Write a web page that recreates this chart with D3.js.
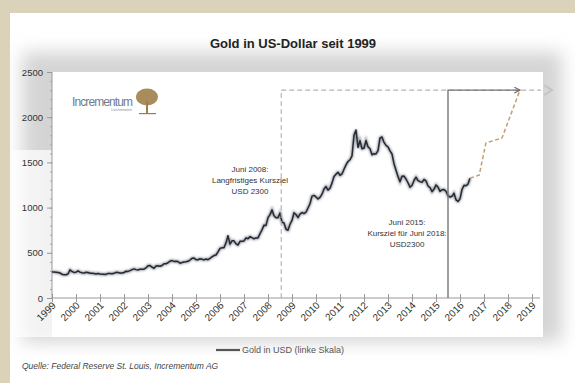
<!DOCTYPE html>
<html>
<head>
<meta charset="utf-8">
<script src="https://d3js.org/d3.v7.min.js"></script>
<style>
  body { margin: 0; background: #dad3b9; }
  svg text { font-family: 'Liberation Sans', Arial, sans-serif; }
</style>
</head>
<body>
<svg id="chart" width="575" height="383"></svg>
<script>
// monthly gold price in USD, Jan 1999 .. Jun 2016
var goldMonthly = [
  287, 288, 286, 282, 277, 262, 256, 257, 265, 311, 293, 283,
  285, 300, 286, 280, 275, 285, 282, 274, 274, 270, 266, 272,
  266, 262, 263, 261, 272, 270, 268, 273, 284, 283, 276, 276,
  282, 296, 294, 303, 314, 322, 314, 310, 319, 317, 319, 333,
  357, 359, 341, 329, 355, 356, 351, 360, 379, 379, 390, 407,
  414, 405, 406, 404, 384, 392, 398, 400, 406, 420, 439, 442,
  424, 423, 434, 429, 422, 431, 424, 438, 456, 470, 476, 510,
  549, 555, 557, 610, 690, 596, 633, 632, 598, 586, 627, 629,
  631, 665, 655, 679, 667, 655, 665, 665, 712, 754, 806, 803,
  889, 922, 975, 909, 888, 889, 939, 839, 829, 760, 750, 816,
  858, 943, 924, 890, 928, 946, 934, 949, 996, 1043, 1127, 1135,
  1118, 1095, 1113, 1148, 1205, 1233, 1193, 1215, 1271, 1343, 1370, 1391,
  1356, 1372, 1424, 1473, 1510, 1529, 1572, 1800, 1858, 1665, 1739, 1652,
  1656, 1742, 1673, 1650, 1585, 1596, 1594, 1630, 1770, 1781, 1721, 1688,
  1671, 1627, 1593, 1485, 1414, 1343, 1286, 1347, 1349, 1316, 1275, 1225,
  1244, 1300, 1336, 1299, 1287, 1279, 1311, 1296, 1239, 1222, 1176, 1202,
  1251, 1227, 1179, 1198, 1199, 1181, 1131, 1117, 1125, 1159, 1086, 1068,
  1097, 1200, 1246, 1242, 1260, 1325
];
var firstYear = 1999;

// forecast path (dashed)
var forecastX = [2016.42, 2016.8, 2017.08, 2017.75, 2018.5];
var forecastY = [1325, 1360, 1715, 1770, 2300];

var xYears = d3.range(1999, 2020);
var yTicks = [0, 500, 1000, 1500, 2000, 2500];
var yMinor = d3.range(0, 2501, 100);

var target = 2300;
var mark2008 = 2008.55;
var mark2015 = 2015.5;
var targetYear = 2018.5;

var title = 'Gold in US-Dollar seit 1999';
var note2008 = ['Juni 2008:', 'Langfristiges Kursziel', 'USD 2300'];
var note2015 = ['Juni 2015:', 'Kursziel für Juni 2018:', 'USD2300'];
var legendLabel = 'Gold in USD (linke Skala)';
var sourceLabel = 'Quelle: Federal Reserve St. Louis, Incrementum AG';

var svg = d3.select('#chart');

var x = d3.scaleLinear().domain([1999, 2019]).range([52, 532]);
var y = d3.scaleLinear().domain([0, 2500]).range([298, 72]);

var defs = svg.append('defs');
defs.append('filter').attr('id', 'soft').attr('x', '-20%').attr('y', '-20%').attr('width', '140%').attr('height', '140%')
  .append('feGaussianBlur').attr('stdDeviation', 9);
defs.append('filter').attr('id', 'glow')
  .append('feGaussianBlur').attr('stdDeviation', 1);
defs.append('marker').attr('id', 'arr').attr('viewBox', '0 0 10 10')
  .attr('refX', 9).attr('refY', 5).attr('markerWidth', 7).attr('markerHeight', 7)
  .attr('markerUnits', 'userSpaceOnUse').attr('orient', 'auto')
  .append('path').attr('d', 'M1,1 L9,5 L1,9').attr('fill', 'none').attr('stroke', '#666').attr('stroke-width', 1.6);

// card and shaded plot frame
svg.append('rect').attr('x', 10).attr('y', 13).attr('width', 565).attr('height', 370).attr('fill', '#fff');
svg.append('rect').attr('x', 22).attr('y', 52).attr('width', 540).attr('height', 290)
  .attr('fill', '#d4d4d4').attr('filter', 'url(#soft)');
svg.append('rect').attr('x', 52).attr('y', 72).attr('width', 491).attr('height', 265).attr('fill', '#fff');
svg.append('rect').attr('x', 12).attr('y', 150).attr('width', 40).attr('height', 187).attr('fill', '#fff').attr('opacity', 0.7);

// title
svg.append('text').attr('x', 293).attr('y', 48).attr('text-anchor', 'middle')
  .attr('font-size', 13).attr('font-weight', 'bold').attr('fill', '#222').text(title);

// logo
var logo = svg.append('g');
logo.append('text').attr('x', 72).attr('y', 106).attr('font-size', 12).attr('fill', '#6d7d8f')
  .attr('textLength', 61).text('Incrementum');
logo.append('text').attr('x', 132).attr('y', 111).attr('text-anchor', 'end').attr('font-size', 3.5)
  .attr('fill', '#8a8a8a').text('Liechtenstein');
logo.append('ellipse').attr('cx', 147).attr('cy', 97).attr('rx', 11).attr('ry', 8.5).attr('fill', '#a98c5c');
logo.append('rect').attr('x', 146).attr('y', 101).attr('width', 2).attr('height', 12).attr('fill', '#9a7e50');
logo.append('rect').attr('x', 139).attr('y', 113).attr('width', 17).attr('height', 1.2).attr('fill', '#9a7e50');

// axes
var gx = svg.append('g').attr('transform', 'translate(0,' + y(0) + ')')
  .call(d3.axisBottom(x).tickValues(xYears).tickFormat(d3.format('d')).tickSize(4));
gx.select('.domain').attr('d', 'M52,0H540').attr('stroke', '#999');
gx.selectAll('.tick line').attr('y1', -4).attr('stroke', '#999');
gx.selectAll('.tick text')
  .attr('font-size', 10).attr('fill', '#333').attr('text-anchor', 'end')
  .attr('y', 0).attr('dy', 0).attr('transform', 'translate(4,8) rotate(-45)');

var gyMinor = svg.append('g').attr('transform', 'translate(52,0)')
  .call(d3.axisLeft(y).tickValues(yMinor).tickFormat('').tickSize(2));
gyMinor.select('.domain').remove();
gyMinor.selectAll('.tick line').attr('stroke', '#aaa');

var gy = svg.append('g').attr('transform', 'translate(52,0)')
  .call(d3.axisLeft(y).tickValues(yTicks).tickFormat(d3.format('d')).tickSize(5));
gy.select('.domain').attr('d', 'M0,' + y(2500) + 'V' + y(0)).attr('stroke', '#999');
gy.selectAll('.tick line').attr('stroke', '#999');
gy.selectAll('.tick text').attr('font-size', 9.5).attr('fill', '#333').attr('x', -9);

// gold line
var goldPoints = goldMonthly.map(function (v, i) { return [firstYear + i / 12, v]; });
var line = d3.line().x(function (d) { return x(d[0]); }).y(function (d) { return y(d[1]); });
svg.append('path').datum(goldPoints).attr('d', line).attr('fill', 'none')
  .attr('stroke', '#9a9ea6').attr('stroke-width', 3).attr('filter', 'url(#glow)');
svg.append('path').datum(goldPoints).attr('d', line).attr('fill', 'none')
  .attr('stroke', '#262a33').attr('stroke-width', 1.5).attr('stroke-linejoin', 'round');

// target markers
svg.append('line').attr('x1', x(mark2008)).attr('x2', x(mark2008)).attr('y1', y(0)).attr('y2', y(target))
  .attr('stroke', '#aaa').attr('stroke-width', 1).attr('stroke-dasharray', '5,3');
svg.append('line').attr('x1', x(mark2008)).attr('x2', 541).attr('y1', y(target)).attr('y2', y(target))
  .attr('stroke', '#b3b3b3').attr('stroke-width', 1.2).attr('stroke-dasharray', '5,3');
svg.append('path').attr('d', 'M544,' + (y(target) - 5) + 'L552,' + y(target) + 'L544,' + (y(target) + 5))
  .attr('fill', 'none').attr('stroke', '#c4c4c4').attr('stroke-width', 2);

var fc = forecastX.map(function (d, i) { return [d, forecastY[i]]; });
svg.append('path').datum(fc).attr('d', line).attr('fill', 'none')
  .attr('stroke', '#c49f6e').attr('stroke-width', 1.5).attr('stroke-dasharray', '4,2.5');

svg.append('path')
  .attr('d', 'M' + x(mark2015) + ',' + y(0) + 'V' + y(target) + 'H' + x(targetYear))
  .attr('fill', 'none').attr('stroke', '#777').attr('stroke-width', 1.4).attr('marker-end', 'url(#arr)');

// notes
svg.append('text').attr('text-anchor', 'middle').attr('font-size', 8).attr('fill', '#333')
  .selectAll('tspan').data(note2008).join('tspan')
  .attr('x', 250).attr('y', function (d, i) { return 172 + i * 11; }).text(function (d) { return d; });
svg.append('text').attr('text-anchor', 'middle').attr('font-size', 8).attr('fill', '#333')
  .selectAll('tspan').data(note2015).join('tspan')
  .attr('x', 407).attr('y', function (d, i) { return 225 + i * 11; }).text(function (d) { return d; });

// legend and source
svg.append('line').attr('x1', 216).attr('x2', 240).attr('y1', 350).attr('y2', 350)
  .attr('stroke', '#555').attr('stroke-width', 2.2);
svg.append('text').attr('x', 242).attr('y', 353).attr('font-size', 9).attr('fill', '#555').text(legendLabel);
svg.append('text').attr('x', 22).attr('y', 369).attr('font-size', 8.5).attr('font-style', 'italic')
  .attr('fill', '#444').text(sourceLabel);
</script>
</body>
</html>
